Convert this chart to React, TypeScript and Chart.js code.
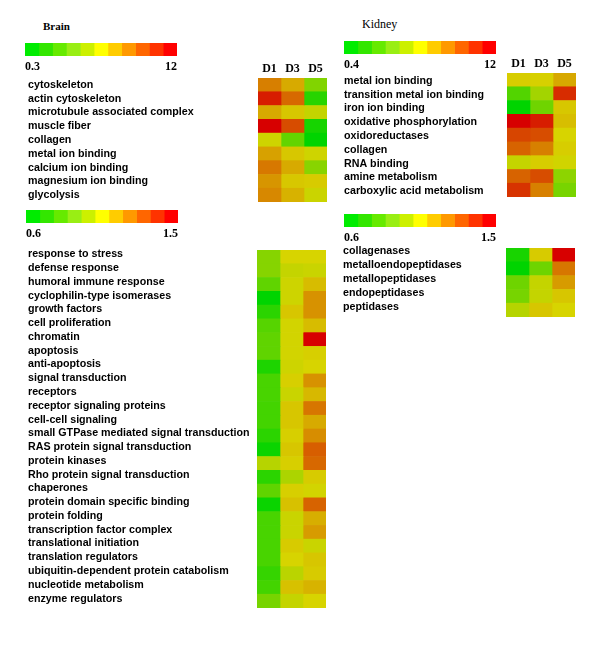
import React, { useEffect, useRef } from "react";
import { Chart, registerables } from "chart.js";

Chart.register(...registerables);

// ---------- data ----------
const columns = ["D1", "D3", "D5"];

const brainTopRows = [
  "cytoskeleton",
  "actin cytoskeleton",
  "microtubule associated complex",
  "muscle fiber",
  "collagen",
  "metal ion binding",
  "calcium ion binding",
  "magnesium ion binding",
  "glycolysis",
];
const brainTopRange = [0.3, 12];
const brainTopTickLabels = ["0.3", "12"];
const brainTopValues = [
  [8.5, 7.3, 3.8],
  [11.2, 9.1, 1.35],
  [7.3, 6.5, 5.6],
  [12.0, 9.9, 0.9],
  [5.9, 3.0, 0.3],
  [7.55, 6.5, 5.9],
  [8.7, 7.3, 4.0],
  [7.9, 6.5, 6.4],
  [8.25, 7.1, 5.8],
];

const brainBottomRows = [
  "response to stress",
  "defense response",
  "humoral immune response",
  "cyclophilin-type isomerases",
  "growth factors",
  "cell proliferation",
  "chromatin",
  "apoptosis",
  "anti-apoptosis",
  "signal transduction",
  "receptors",
  "receptor signaling proteins",
  "cell-cell signaling",
  "small GTPase mediated signal transduction",
  "RAS protein signal transduction",
  "protein kinases",
  "Rho protein signal transduction",
  "chaperones",
  "protein domain specific binding",
  "protein folding",
  "transcription factor complex",
  "translational initiation",
  "translation regulators",
  "ubiquitin-dependent protein catabolism",
  "nucleotide metabolism",
  "enzyme regulators",
];
const brainBottomRange = [0.6, 1.5];
const brainBottomTickLabels = ["0.6", "1.5"];
const brainBottomValues = [
  [0.88, 1.05, 1.05],
  [0.88, 1.01, 1.02],
  [0.8, 1.03, 1.1],
  [0.6, 1.03, 1.19],
  [0.69, 1.08, 1.19],
  [0.78, 1.04, 1.1],
  [0.8, 1.04, 1.5],
  [0.8, 1.04, 1.06],
  [0.66, 1.03, 1.05],
  [0.75, 1.06, 1.19],
  [0.75, 1.02, 1.11],
  [0.74, 1.08, 1.25],
  [0.74, 1.08, 1.14],
  [0.69, 1.06, 1.2],
  [0.62, 1.08, 1.3],
  [0.98, 1.06, 1.28],
  [0.69, 0.96, 1.07],
  [0.8, 1.06, 1.04],
  [0.62, 1.09, 1.29],
  [0.75, 1.02, 1.13],
  [0.75, 1.02, 1.17],
  [0.75, 1.07, 1.02],
  [0.75, 1.05, 1.08],
  [0.71, 0.99, 1.07],
  [0.74, 1.09, 1.12],
  [0.85, 1.01, 1.05],
];

const kidneyTopRows = [
  "metal ion binding",
  "transition metal ion binding",
  "iron ion binding",
  "oxidative phosphorylation",
  "oxidoreductases",
  "collagen",
  "RNA binding",
  "amine metabolism",
  "carboxylic acid metabolism",
];
const kidneyTopRange = [0.4, 12];
const kidneyTopTickLabels = ["0.4", "12"];
const kidneyTopValues = [
  [6.4, 6.3, 7.4],
  [2.6, 4.8, 10.8],
  [0.4, 3.4, 6.55],
  [12.0, 11.2, 6.8],
  [10.1, 9.9, 6.2],
  [9.3, 8.5, 6.4],
  [5.7, 6.4, 6.0],
  [9.3, 9.9, 4.2],
  [10.6, 8.5, 3.65],
];

const kidneyBottomRows = [
  "collagenases",
  "metalloendopeptidases",
  "metallopeptidases",
  "endopeptidases",
  "peptidases",
];
const kidneyBottomRange = [0.6, 1.5];
const kidneyBottomTickLabels = ["0.6", "1.5"];
const kidneyBottomValues = [
  [0.65, 1.07, 1.5],
  [0.6, 0.83, 1.25],
  [0.83, 1.01, 1.17],
  [0.85, 1.01, 1.08],
  [0.98, 1.08, 1.05],
];

// colour key steps (green -> yellow -> red)
const keyColors = [
  "#00ec00",
  "#33e600",
  "#66ea00",
  "#99ee14",
  "#ccf000",
  "#ffff00",
  "#ffcc00",
  "#ff9900",
  "#ff6600",
  "#ff3300",
  "#ff0000",
];

// ---------- helpers ----------
function cellColor(v: number, range: number[]) {
  const t = Math.max(0, Math.min(1, (v - range[0]) / (range[1] - range[0])));
  const r = t < 0.5 ? Math.round(430 * t) : 215;
  const g = t < 0.5 ? 212 : Math.round(424 * (1 - t));
  return `rgb(${r},${g},0)`;
}

const labelFont = { family: "'Liberation Sans', Arial, sans-serif", size: 10.7, weight: "bold" as const };
const serifBold = { family: "'Liberation Serif', 'Times New Roman', serif", size: 12, weight: "bold" as const };

function zeroPad(s: any) {
  s.paddingLeft = 0;
  s.paddingRight = 0;
  s.paddingTop = 0;
  s.paddingBottom = 0;
}

type HeatProps = {
  rows: string[];
  values: number[][];
  range: number[];
  left: number;
  top: number;
  right: number;
  bottom: number;
  labelX: number;
  labelOffset: number;
  showHeader: boolean;
};

function Heatmap(p: HeatProps) {
  const ref = useRef<HTMLCanvasElement>(null);
  const padL = 4;
  const padR = 6;
  const padB = 10;
  const headH = 22;
  const cLeft = p.labelX - padL;
  const cTop = p.top - headH;
  const width = p.right - cLeft + padR;
  const height = p.bottom - cTop + padB;

  useEffect(() => {
    if (!ref.current) return;
    const chart = new Chart(ref.current, {
      type: "bar",
      data: {
        labels: p.rows,
        datasets: columns.map((c, ci) => ({
          label: c,
          data: p.rows.map(() => [ci, ci + 1] as [number, number]),
          backgroundColor: p.values.map((r) => cellColor(r[ci], p.range)),
          borderWidth: 0,
          barPercentage: 1,
          categoryPercentage: 1,
          grouped: false,
        })),
      },
      options: {
        indexAxis: "y",
        responsive: false,
        animation: false,
        layout: { padding: { left: padL, right: padR, top: 0, bottom: padB } },
        plugins: { legend: { display: false }, tooltip: { enabled: false } },
        scales: {
          x: {
            type: "linear",
            position: "top",
            min: 0,
            max: 3,
            grid: { display: false, drawTicks: false },
            border: { display: false },
            afterBuildTicks: (s: any) => {
              s.ticks = columns.map((_, i) => ({ value: i + 0.5 }));
            },
            afterFit: (s: any) => {
              s.height = headH;
              zeroPad(s);
            },
            ticks: {
              display: p.showHeader,
              padding: 2,
              color: "#000",
              font: serifBold,
              autoSkip: false,
              maxRotation: 0,
              callback: (_v: any, i: number) => columns[i],
            },
          },
          y: {
            type: "category",
            grid: { display: false, drawTicks: false },
            border: { display: false },
            afterFit: (s: any) => {
              s.width = p.left - p.labelX;
              zeroPad(s);
            },
            ticks: {
              crossAlign: "far",
              labelOffset: p.labelOffset,
              autoSkip: false,
              color: "#000",
              font: labelFont,
            },
          },
        },
      },
    } as any);
    return () => chart.destroy();
  }, []);

  return (
    <canvas
      ref={ref}
      width={width}
      height={height}
      style={{ position: "absolute", left: cLeft, top: cTop, width, height }}
    />
  );
}

type KeyProps = { left: number; top: number; width: number; barH: number; tickLabels: string[] };

function ColorKey(p: KeyProps) {
  const ref = useRef<HTMLCanvasElement>(null);
  const axisH = 24;
  const height = p.barH + axisH;
  useEffect(() => {
    if (!ref.current) return;
    const chart = new Chart(ref.current, {
      type: "bar",
      data: {
        labels: [""],
        datasets: keyColors.map((c, i) => ({
          data: [[i, i + 1] as [number, number]],
          backgroundColor: c,
          borderWidth: 0,
          barPercentage: 1,
          categoryPercentage: 1,
          grouped: false,
        })),
      },
      options: {
        indexAxis: "y",
        responsive: false,
        animation: false,
        layout: { padding: 0 },
        plugins: { legend: { display: false }, tooltip: { enabled: false } },
        scales: {
          x: {
            type: "linear",
            position: "bottom",
            min: 0,
            max: keyColors.length,
            grid: { display: false, drawTicks: false },
            border: { display: false },
            afterBuildTicks: (s: any) => {
              s.ticks = [{ value: 0 }, { value: keyColors.length }];
            },
            afterFit: (s: any) => {
              s.height = axisH;
              zeroPad(s);
            },
            ticks: {
              align: "inner",
              padding: 4,
              color: "#000",
              font: serifBold,
              autoSkip: false,
              maxRotation: 0,
              callback: (_v: any, i: number) => p.tickLabels[i],
            },
          },
          y: { display: false },
        },
      },
    } as any);
    return () => chart.destroy();
  }, []);
  return (
    <canvas
      ref={ref}
      width={p.width}
      height={height}
      style={{ position: "absolute", left: p.left, top: p.top, width: p.width, height }}
    />
  );
}

export default function App() {
  return (
    <div
      style={{
        position: "absolute",
        left: 0,
        top: 0,
        width: 600,
        height: 652,
        background: "#fff",
        overflow: "hidden",
      }}
    >
      <div
        style={{
          position: "absolute",
          left: 43,
          top: 19,
          font: "bold 11px 'Liberation Serif', serif",
          lineHeight: "14px",
          color: "#000",
        }}
      >
        Brain
      </div>
      <div
        style={{
          position: "absolute",
          left: 362,
          top: 17,
          font: "12px 'Liberation Serif', serif",
          lineHeight: "14px",
          color: "#000",
        }}
      >
        Kidney
      </div>

      <ColorKey left={25} top={43} width={152} barH={13} tickLabels={brainTopTickLabels} />
      <Heatmap
        rows={brainTopRows}
        values={brainTopValues}
        range={brainTopRange}
        left={258}
        top={78}
        right={327}
        bottom={202}
        labelX={28}
        labelOffset={0}
        showHeader={true}
      />

      <ColorKey left={26} top={210} width={152} barH={13} tickLabels={brainBottomTickLabels} />
      <Heatmap
        rows={brainBottomRows}
        values={brainBottomValues}
        range={brainBottomRange}
        left={257}
        top={250}
        right={326}
        bottom={608}
        labelX={28}
        labelOffset={-2.5}
        showHeader={false}
      />

      <ColorKey left={344} top={41} width={152} barH={13} tickLabels={kidneyTopTickLabels} />
      <Heatmap
        rows={kidneyTopRows}
        values={kidneyTopValues}
        range={kidneyTopRange}
        left={507}
        top={73}
        right={576}
        bottom={197}
        labelX={344}
        labelOffset={1}
        showHeader={true}
      />

      <ColorKey left={344} top={214} width={152} barH={13} tickLabels={kidneyBottomTickLabels} />
      <Heatmap
        rows={kidneyBottomRows}
        values={kidneyBottomValues}
        range={kidneyBottomRange}
        left={506}
        top={248}
        right={575}
        bottom={317}
        labelX={343}
        labelOffset={-3.5}
        showHeader={false}
      />
    </div>
  );
}
